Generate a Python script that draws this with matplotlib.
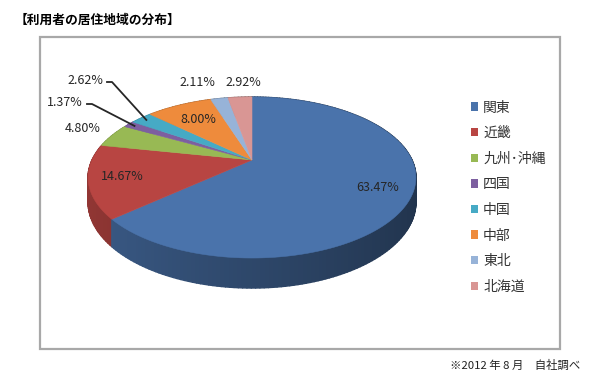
import numpy as np
import matplotlib
matplotlib.use("Agg")
import matplotlib.pyplot as plt
from matplotlib.patches import Rectangle, Patch, Polygon
from matplotlib.collections import PolyCollection
from matplotlib.colors import to_rgb

plt.rcParams['font.family'] = ['Noto Sans CJK JP', 'DejaVu Sans']

# データ
regions = ["関東", "近畿", "九州･沖縄", "四国", "中国", "中部", "東北", "北海道"]
shares = [63.47, 14.67, 4.80, 1.37, 2.62, 8.00, 2.11, 2.92]
colors = ["#4A73AB", "#B84542", "#98B954", "#7D5FA0", "#46AAC5", "#EE8B3C", "#97B3D8", "#D99694"]
labels = ["%.2f%%" % s for s in shares]

title = "【利用者の居住地域の分布】"
note = "※2012 年 8 月　自社調べ"

# 3D円グラフの投影 (ピクセル座標)
cx, cy = 252, 160
A, B, k, D = 160.0, 76.7, 0.2174, 23.5


def project(alpha, r=1.0):
    u = r * np.sin(alpha)
    v = r * np.cos(alpha)
    w = 1 + k * v
    return cx + A * u / w, cy - B * v / w, w


fig = plt.figure(figsize=(6, 3.81), dpi=100)
ax = fig.add_axes([0, 0, 1, 1])
ax.set_xlim(0, 600)
ax.set_ylim(381, 0)
ax.axis("off")

ax.add_patch(Rectangle((40, 37), 520, 312, fill=False, edgecolor="#A8A8A8", lw=1.6))

total = sum(shares)
bounds = np.concatenate([[0], np.cumsum(shares)]) / total * 2 * np.pi

# 側面
quads, qcols, depth = [], [], []
for i in range(len(shares)):
    a = np.linspace(bounds[i], bounds[i + 1], max(int(shares[i] * 3), 4))
    x, y, w = project(a)
    yb = y + D / w
    base = np.array(to_rgb(colors[i]))
    for j in range(len(a) - 1):
        quads.append([(x[j], y[j]), (x[j + 1], y[j + 1]), (x[j + 1], yb[j + 1]), (x[j], yb[j])])
        uu = np.sin((a[j] + a[j + 1]) / 2)
        f = 0.80 - 0.36 * (uu + 1) / 2
        qcols.append(base * f)
        depth.append(np.cos(a[j]))
order = np.argsort(depth)[::-1]
ax.add_collection(PolyCollection([quads[o] for o in order], facecolors=[qcols[o] for o in order],
                                 edgecolors=[qcols[o] for o in order], linewidths=1.0))

# 上面
for i in range(len(shares)):
    a = np.linspace(bounds[i], bounds[i + 1], max(int(shares[i] * 3), 4))
    x, y, _ = project(a)
    pts = [(cx, cy)] + list(zip(x, y))
    ax.add_patch(Polygon(pts, closed=True, facecolor=colors[i], edgecolor=colors[i], lw=0.4))

# ラベル
mid = (bounds[:-1] + bounds[1:]) / 2
inner = {0: 0.8, 1: 0.8, 5: 0.7}
for i, r in inner.items():
    x, y, _ = project(mid[i], r)
    ax.text(x, y, labels[i], ha="center", va="center", fontsize=9, color="#262626")

outer_pos = {2: (83, 129), 3: (65, 103), 4: (85, 81), 6: (197, 83), 7: (243, 82)}
for i, (x, y) in outer_pos.items():
    ax.text(x, y, labels[i], ha="center", va="center", fontsize=9, color="#262626")

for i in (3, 4):
    lx, ly = outer_pos[i]
    px, py, _ = project(mid[i], 0.95)
    ax.plot([lx + 22, lx + 27, px], [ly + 1, ly + 1, py], color="#262626", lw=1.3)

# 凡例
handles = [Patch(facecolor=c, edgecolor="none") for c in colors]
fig.legend(handles, regions, loc="upper left", bbox_to_anchor=(465 / 600, 1 - 95 / 381),
           frameon=False, fontsize=10, handlelength=0.55, handleheight=0.55,
           handletextpad=0.35, labelspacing=0.835, borderaxespad=0, labelcolor="#333333")

ax.text(15, 20, title, fontsize=9.2, fontweight="bold", ha="left", va="center")
ax.text(580, 365, note, fontsize=8.2, ha="right", va="center", color="#222222")

fig.savefig("out.png", dpi=100)
